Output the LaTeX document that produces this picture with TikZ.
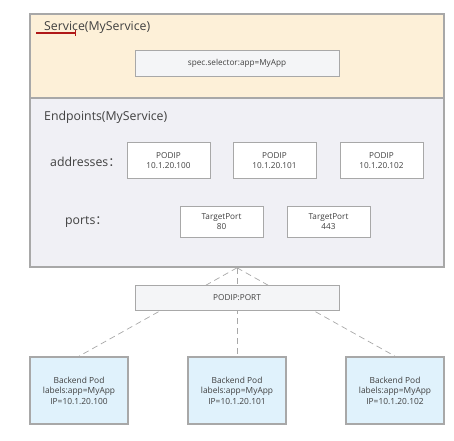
\documentclass[tikz,border=0pt]{standalone}
\usepackage{fontspec}
\setmainfont{Open Sans}
\newfontfamily\cjk{Noto Sans CJK SC}
\usetikzlibrary{positioning}
\definecolor{svcfill}{HTML}{FDF0D8}
\definecolor{epfill}{HTML}{F0F0F5}
\definecolor{podfill}{HTML}{E0F2FC}
\definecolor{bord}{HTML}{A8A8A8}
\definecolor{boxfill}{HTML}{F4F5F7}
\definecolor{txt}{HTML}{404040}
\definecolor{redline}{HTML}{B01818}
\tikzset{
  outerbox/.style={draw=bord, line width=1.6pt, inner sep=0pt},
  innerbox/.style={draw=bord, line width=0.6pt, fill=white, inner sep=0pt, align=center, font=\fontsize{8.2}{10.5}\selectfont, text=txt},
  graybox/.style={innerbox, fill=boxfill},
  podbox/.style={draw=bord, line width=1.6pt, fill=podfill, inner sep=0pt, align=center, font=\fontsize{8.4}{10.5}\selectfont, text=txt},
  title/.style={anchor=west, font=\fontsize{12.3}{14}\selectfont, text=txt, inner sep=0pt},
  dashline/.style={draw=bord, line width=0.7pt, dash pattern=on 6pt off 4pt},
}
\begin{document}
\begin{tikzpicture}[x=1pt,y=-1pt]
\useasboundingbox (0,0) rectangle (454,440);
% outer boxes
\node[outerbox, fill=svcfill, minimum width=414pt, minimum height=84pt] (svc) at (237,56) {};
\node[outerbox, fill=epfill, minimum width=414pt, minimum height=169pt] (ep) at (237,182.5) {};
\node[title] (svct) at (44,27) {Service(MyService)};
\draw[redline, line width=1.2pt] (36,33) -- (76,33);
\draw[redline, line width=0.8pt] (75,30) -- (75,36);
\node[graybox, minimum width=204pt, minimum height=26pt] (spec) at (237,63) {spec.selector:app=MyApp};
\node[title] (ept) at (44,117) {Endpoints(MyService)};
\node[title] (addr) at (50,162) {addresses{\cjk ：}};
\node[title] (ports) at (65,222) {ports{\cjk ：}};
\node[innerbox, minimum width=83pt, minimum height=36pt] (ip1) at (168.5,160.5) {PODIP\\10.1.20.100};
\node[innerbox, minimum width=83pt, minimum height=36pt] (ip2) at (274.5,160.5) {PODIP\\10.1.20.101};
\node[innerbox, minimum width=83pt, minimum height=36pt] (ip3) at (381.5,160.5) {PODIP\\10.1.20.102};
\node[innerbox, minimum width=83pt, minimum height=31pt] (tp1) at (221.5,221.5) {TargetPort\\80};
\node[innerbox, minimum width=83pt, minimum height=31pt] (tp2) at (328.5,221.5) {TargetPort\\443};
% pods
\node[podbox, minimum width=98pt, minimum height=67pt] (pod1) at (79,390.5) {Backend Pod\\labels:app=MyApp\\IP=10.1.20.100};
\node[podbox, minimum width=98pt, minimum height=67pt] (pod2) at (237,390.5) {Backend Pod\\labels:app=MyApp\\IP=10.1.20.101};
\node[podbox, minimum width=98pt, minimum height=67pt] (pod3) at (395,390.5) {Backend Pod\\labels:app=MyApp\\IP=10.1.20.102};
% connectors
\coordinate (hub) at (ep.south);
\draw[dashline] (hub) -- (pod1.north);
\draw[dashline] (hub) -- (pod2.north);
\draw[dashline] (hub) -- (pod3.north);
\node[graybox, minimum width=204pt, minimum height=25pt] (pp) at (237,297.5) {PODIP:PORT};
\end{tikzpicture}
\end{document}
